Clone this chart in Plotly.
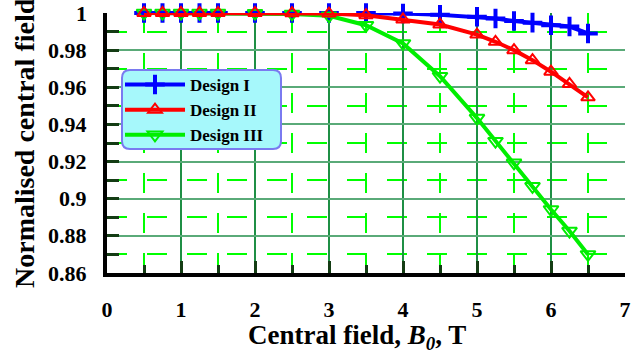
import plotly.graph_objects as go

# ---- data ----
b0 = [0.5, 0.75, 1, 1.25, 1.5, 2, 2.5, 3, 3.5, 4, 4.5, 5, 5.25, 5.5, 5.75, 6, 6.25, 6.5]
design_1 = [1.0, 1.0, 1.0, 1.0, 1.0, 1.0, 1.0, 1.0, 1.0, 0.9997, 0.999, 0.998, 0.997,
            0.9957, 0.9948, 0.9934, 0.9927, 0.989]
design_2 = [1.0, 1.0, 1.0, 1.0, 1.0, 1.0, 0.9999, 0.9997, 0.9988, 0.9965, 0.9938, 0.9884,
            0.9845, 0.980, 0.9746, 0.9684, 0.9618, 0.9546]
design_3 = [1.0, 1.0, 1.0, 1.0, 1.0, 0.9999, 0.9995, 0.9985, 0.9934, 0.9836, 0.966, 0.9434,
            0.931, 0.9193, 0.9067, 0.8942, 0.8826, 0.870]
series_names = ["Design I", "Design II", "Design III"]

x_tickvals = [0, 1, 2, 3, 4, 5, 6, 7]
x_ticktext = ["0", "1", "2", "3", "4", "5", "6", "7"]
y_tickvals = [0.86, 0.88, 0.90, 0.92, 0.94, 0.96, 0.98, 1.0]
y_ticktext = ["0.86", "0.88", "0.9", "0.92", "0.94", "0.96", "0.98", "1"]

FONT = "Liberation Serif"
W, H = 642, 351
ML, MR, MT, MB = 107, 17, 13, 78
PW, PH = W - ML - MR, H - MT - MB

def px(x):
    return (x - ML) / PW

def py(y):
    return (H - MB - y) / PH

fig = go.Figure()
fig.add_trace(go.Scatter(
    x=b0, y=design_1, name=series_names[0], mode="lines+markers", legendrank=1,
    line=dict(color="#0000ff", width=4),
    marker=dict(symbol="cross-thin", size=14, line=dict(color="#0000ff", width=4)),
    cliponaxis=False))
fig.add_trace(go.Scatter(
    x=b0, y=design_3, name=series_names[2], mode="lines+markers", legendrank=3,
    line=dict(color="#00ee00", width=4),
    marker=dict(symbol="triangle-down-open", size=13, color="#00ee00", line=dict(width=2)),
    cliponaxis=False))
fig.add_trace(go.Scatter(
    x=b0, y=design_2, name=series_names[1], mode="lines+markers", legendrank=2,
    line=dict(color="#ff0000", width=4),
    marker=dict(symbol="triangle-up-open", size=12, color="#ff0000", line=dict(width=2)),
    cliponaxis=False))

tickfont = dict(family=FONT, size=22, color="black", weight="bold")

fig.update_xaxes(
    range=[0, 7], tickmode="array", tickvals=x_tickvals, ticktext=x_ticktext,
    showline=True, linecolor="black", linewidth=4, mirror=False, automargin=False,
    ticks="inside", ticklen=12, tickwidth=3, tickcolor="#143c14",
    showgrid=True, gridcolor="#1f8f45", gridwidth=1.5,
    zeroline=False, tickfont=tickfont, ticklabelstandoff=14,
    minor=dict(dtick=0.5, tick0=0, showgrid=True, gridcolor="#00ff00", gridwidth=1.5,
               griddash="20px,20px", ticks="inside", ticklen=8, tickwidth=3,
               tickcolor="#143c14"),
)
fig.update_yaxes(
    range=[0.86, 1.0], tickmode="array", tickvals=y_tickvals, ticktext=y_ticktext,
    showticklabels=False,
    showline=True, linecolor="black", linewidth=4, mirror=False, automargin=False,
    ticks="inside", ticklen=12, tickwidth=3, tickcolor="#143c14",
    showgrid=True, gridcolor="#5aaa78", gridwidth=1.5,
    zeroline=False,
    minor=dict(dtick=0.01, tick0=0.86, showgrid=True, gridcolor="#00ff00", gridwidth=1.5,
               griddash="20px,20px", ticks="inside", ticklen=12, tickwidth=3,
               tickcolor="#143c14"),
)

# y tick labels, right-aligned next to the axis
for v, t in zip(y_tickvals, y_ticktext):
    fig.add_annotation(text=t, xref="paper", yref="y", x=px(89), y=v,
                       xanchor="right", yanchor="middle", showarrow=False,
                       font=tickfont)

# rounded legend box
x0, x1, y0, y1, r = 122, 281, 70, 149, 8
path = (f"M {px(x0+r)},{py(y0)} L {px(x1-r)},{py(y0)} Q {px(x1)},{py(y0)} {px(x1)},{py(y0+r)} "
        f"L {px(x1)},{py(y1-r)} Q {px(x1)},{py(y1)} {px(x1-r)},{py(y1)} "
        f"L {px(x0+r)},{py(y1)} Q {px(x0)},{py(y1)} {px(x0)},{py(y1-r)} "
        f"L {px(x0)},{py(y0+r)} Q {px(x0)},{py(y0)} {px(x0+r)},{py(y0)} Z")
fig.add_shape(type="path", path=path, xref="paper", yref="paper",
              fillcolor="#a6f8fb", line=dict(color="#7a7af0", width=2), layer="above")

fig.add_annotation(text="Normalised central field", xref="paper", yref="paper",
                   x=px(24), y=0.5, textangle=-90, showarrow=False,
                   xanchor="center", yanchor="middle",
                   font=dict(family=FONT, size=28, color="black", weight="bold"))
fig.add_annotation(text="Central field, <i>B<sub>0</sub></i>, T", xref="paper", yref="paper",
                   x=px(357), y=py(337), showarrow=False,
                   xanchor="center", yanchor="middle",
                   font=dict(family=FONT, size=27, color="black", weight="bold"))

fig.update_layout(
    width=W, height=H,
    margin=dict(l=ML, r=MR, t=MT, b=MB, autoexpand=False),
    paper_bgcolor="white", plot_bgcolor="white",
    showlegend=True,
    legend=dict(x=px(120), y=py(67), xanchor="left", yanchor="top",
                bgcolor="rgba(0,0,0,0)", borderwidth=0,
                font=dict(family=FONT, size=17, color="black", weight="bold"),
                itemwidth=60, tracegroupgap=0, traceorder="normal"),
)

fig.write_html("out.html", config={"displayModeBar": False},
               post_script="document.body.style.margin='0';")
